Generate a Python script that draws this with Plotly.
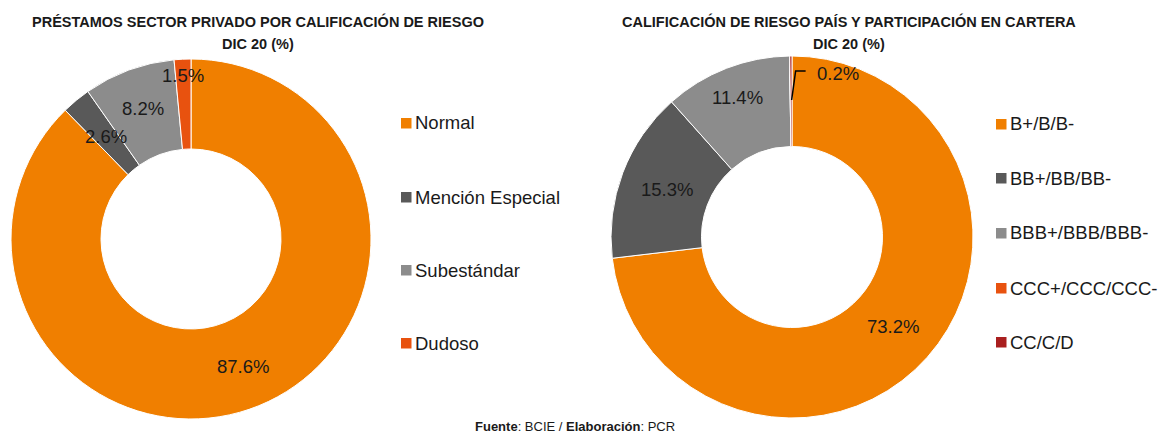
import math
import plotly.graph_objects as go

# ---------------- data ----------------
left_title = ["PRÉSTAMOS SECTOR PRIVADO POR CALIFICACIÓN DE RIESGO", "DIC 20 (%)"]
left_labels = ["Normal", "Mención Especial", "Subestándar", "Dudoso"]
left_values = [87.6, 2.6, 8.2, 1.5]

right_title = ["CALIFICACIÓN DE RIESGO PAÍS Y PARTICIPACIÓN EN CARTERA", "DIC 20 (%)"]
right_labels = ["B+/B/B-", "BB+/BB/BB-", "BBB+/BBB/BBB-", "CCC+/CCC/CCC-", "CC/C/D"]
right_values = [73.2, 15.3, 11.4, 0.0, 0.2]

footer_source = "BCIE"
footer_made = "PCR"

# ---------------- style ----------------
left_colors = ["#F07F00", "#595959", "#8C8C8C", "#E8520F"]
right_colors = ["#F07F00", "#595959", "#8C8C8C", "#E8520F", "#A91F1F"]
FONT = "Liberation Sans, Arial, sans-serif"
TXT = "#1a1a1a"

W, H = 1160, 437

L = dict(cx=191, cy=239, R=180, lab_r=[138, 133, 139.5, 164],
         leg_x=401, leg_y=[123, 197, 270, 343])
Rt = dict(cx=792, cy=237, R=181, lab_r=[135, 134, 150, None, None],
          leg_x=996, leg_y=[124, 178, 233, 288, 342])

fig = go.Figure()
annotations = []
shapes = []


def px2paper(x, y):
    return x / W, 1 - y / H


def add_donut(geo, labels, values, colors):
    cx, cy, R = geo["cx"], geo["cy"], geo["R"]
    x0, y1 = px2paper(cx - R, cy - R)
    x1, y0 = px2paper(cx + R, cy + R)
    fig.add_trace(go.Pie(
        labels=labels, values=values, hole=0.5, sort=False,
        direction="clockwise", rotation=0,
        marker=dict(colors=colors, line=dict(color="white", width=1)),
        textinfo="none", hoverinfo="label+percent", showlegend=False,
        domain=dict(x=[x0, x1], y=[y0, y1]),
    ))
    total = sum(values)
    cum = 0.0
    for i, v in enumerate(values):
        mid = (cum + v / 2) / total
        cum += v
        if v == 0:
            continue
        th = 2 * math.pi * mid
        r = geo["lab_r"][i]
        txt = f"{v:.1f}%"
        if r is None:
            # thin slice: label with a leader line
            sx = cx + 137 * math.sin(th) + 0.5
            sy = cy - 137 * math.cos(th)
            ex, ey = sx + 4, cy - 166
            hx = ex + 10
            p = [px2paper(sx, sy), px2paper(ex, ey), px2paper(hx, ey)]
            shapes.append(dict(type="path", xref="paper", yref="paper",
                               path="M {},{} L {},{} L {},{}".format(
                                   p[0][0], p[0][1], p[1][0], p[1][1], p[2][0], p[2][1]),
                               line=dict(color="black", width=1.5)))
            ax, ay = px2paper(hx + 9, ey + 2)
            annotations.append(dict(x=ax, y=ay, xref="paper", yref="paper", text=txt,
                                    showarrow=False, xanchor="left", yanchor="middle",
                                    font=dict(size=18.5, color=TXT, family=FONT)))
            continue
        ax, ay = px2paper(cx + r * math.sin(th), cy - r * math.cos(th))
        annotations.append(dict(x=ax, y=ay, xref="paper", yref="paper", text=txt,
                                showarrow=False, xanchor="center", yanchor="middle",
                                font=dict(size=18.5, color=TXT, family=FONT)))
    # manual legend
    for lab, col, ly in zip(labels, colors, geo["leg_y"]):
        lx = geo["leg_x"]
        sx0, sy0 = px2paper(lx, ly - 5)
        sx1, sy1 = px2paper(lx + 10.5, ly + 5.5)
        shapes.append(dict(type="rect", xref="paper", yref="paper",
                           x0=sx0, x1=sx1, y0=sy1, y1=sy0,
                           fillcolor=col, line=dict(width=0)))
        tx, ty = px2paper(lx + 12, ly)
        annotations.append(dict(x=tx, y=ty, xref="paper", yref="paper", text=lab,
                                showarrow=False, xanchor="left", yanchor="middle",
                                font=dict(size=18.5, color=TXT, family=FONT)))


add_donut(L, left_labels, left_values, left_colors)
add_donut(Rt, right_labels, right_values, right_colors)

# titles
for cxp, lines in ((258, left_title), (849, right_title)):
    for ly, t in zip((22, 44), lines):
        x, y = px2paper(cxp, ly)
        annotations.append(dict(x=x, y=y, xref="paper", yref="paper", text=f"<b>{t}</b>",
                                showarrow=False, xanchor="center", yanchor="middle",
                                font=dict(size=14.5, color=TXT, family=FONT)))

fx, fy = px2paper(575, 436)
annotations.append(dict(x=fx, y=fy, xref="paper", yref="paper",
                        text=f"<b>Fuente</b>: {footer_source} / <b>Elaboración</b>: {footer_made}",
                        showarrow=False, xanchor="center", yanchor="bottom",
                        font=dict(size=13, color=TXT, family=FONT)))

fig.update_layout(width=W, height=H, margin=dict(l=0, r=0, t=0, b=0),
                  paper_bgcolor="white", plot_bgcolor="white",
                  annotations=annotations, shapes=shapes,
                  font=dict(family=FONT))
fig.write_html("out.html", config={"displayModeBar": False},
               post_script="document.body.style.margin='0';document.body.style.overflow='hidden';")
